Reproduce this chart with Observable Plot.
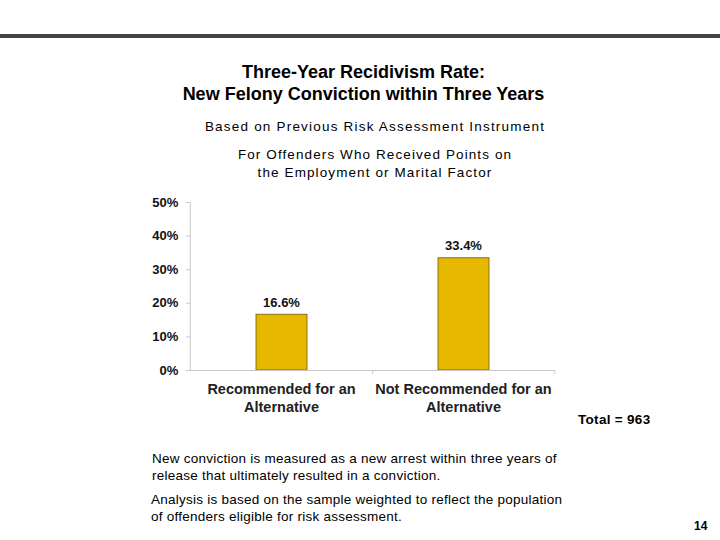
<!DOCTYPE html>
<html><head><meta charset="utf-8">
<script src="https://cdn.jsdelivr.net/npm/d3@7"></script>
<script src="https://cdn.jsdelivr.net/npm/@observablehq/plot@0.6"></script>
<style>
body{margin:0;background:#fff;font-family:"Liberation Sans",Arial,sans-serif;color:#000;}
#page{position:relative;width:720px;height:540px;overflow:hidden;}
.t{position:absolute;white-space:nowrap;}
#rule{position:absolute;left:0;top:34px;width:720px;height:4px;background:#444;}
#chart{position:absolute;left:0;top:190px;}
</style></head>
<body><div id="page">
<div id="rule"></div>
<div class="t" style="left:0;width:727px;text-align:center;top:61px;font-size:18px;font-weight:bold;line-height:22px">Three-Year Recidivism Rate:<br>New Felony Conviction within Three Years</div>
<div class="t" style="left:0;width:750px;text-align:center;top:119px;font-size:13.5px;letter-spacing:1.2px">Based on Previous Risk Assessment Instrument</div>
<div class="t" style="left:0;width:750px;text-align:center;top:146px;font-size:13.5px;letter-spacing:1.1px;line-height:18px">For Offenders Who Received Points on<br>the Employment or Marital Factor</div>
<div id="chart"></div>
<div class="t" style="left:578px;top:412px;font-size:13.5px;font-weight:bold;letter-spacing:0.3px">Total = 963</div>
<div class="t" style="left:152px;top:450px;font-size:13.5px;line-height:17px;letter-spacing:0.25px">New conviction is measured as a new arrest within three years of<br>release that ultimately resulted in a conviction.</div>
<div class="t" style="left:151px;top:491px;font-size:13.5px;line-height:17px;letter-spacing:0.25px">Analysis is based on the sample weighted to reflect the population<br>of offenders eligible for risk assessment.</div>
<div class="t" style="left:694px;top:519px;font-size:12px;font-weight:bold">14</div>
</div>
<script>
const categories = ["Recommended for an\nAlternative", "Not Recommended for an\nAlternative"];
const rates = [16.6, 33.4];
const yTicks = [0, 10, 20, 30, 40, 50];

const data = categories.map((c, i) => ({category: c, rate: rates[i]}));
const band = (554 - 189) / categories.length;

const chart = Plot.plot({
  width: 720,
  height: 230,
  marginLeft: 189,
  marginRight: 166,
  marginTop: 12,
  marginBottom: 50,
  style: {fontFamily: "'Liberation Sans', Arial, sans-serif", background: "transparent", color: "#111"},
  x: {domain: categories, padding: 0, axis: null},
  y: {domain: [0, 50], axis: null},
  marks: [
    Plot.barY(data, {x: "category", y: "rate", fill: "#E6B800", stroke: "#6b5a10", strokeWidth: 0.8, insetLeft: 66, insetRight: 65}),
    Plot.ruleY([0], {stroke: "#c8c8c8", strokeWidth: 1}),
    Plot.ruleX([0], {x: () => categories[0], dx: -band / 2, y1: 0, y2: 50, stroke: "#c8c8c8", strokeWidth: 1}),
    Plot.tickY(yTicks, {y: d => d, x: () => categories[0], dx: -band / 2 - 2, stroke: "#c8c8c8", insetLeft: band / 2 - 2, insetRight: band / 2 - 2}),
    Plot.text(yTicks, {y: d => d, x: () => categories[0], dx: -band / 2 - 12, text: d => d + "%", textAnchor: "end", fontSize: 13, fontWeight: "bold", fill: "#111"}),
    Plot.text(data, {x: "category", y: "rate", text: d => d.rate.toFixed(1) + "%", dy: -12, fontSize: 13, fontWeight: "bold", fill: "#111"}),
    Plot.text(data, {x: "category", y: 0, text: "category", dy: 27, fontSize: 14.5, fontWeight: "bold", lineHeight: 1.2, fill: "#222"}),
    Plot.ruleX(categories, {x: d => d, dx: band / 2, y1: 0, y2: 0, insetBottom: -4, stroke: "#c8c8c8"})
  ]
});
document.getElementById("chart").appendChild(chart);
</script>
</body></html>
